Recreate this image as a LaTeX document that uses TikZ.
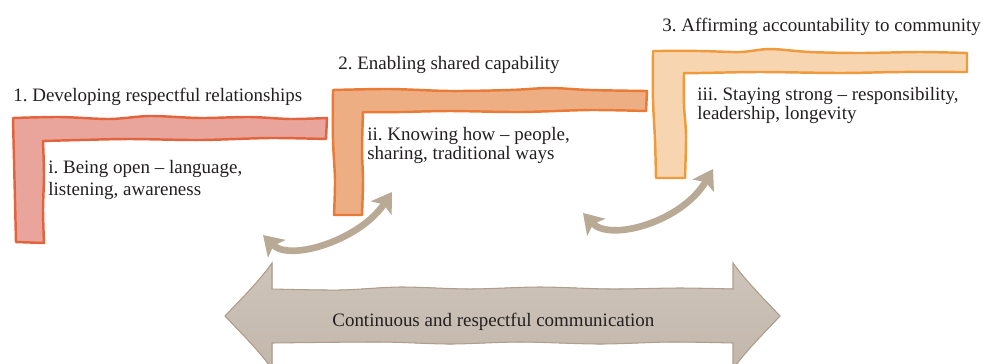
\documentclass[tikz,border=0pt]{standalone}
\usepackage{fontspec}
\setmainfont{Liberation Serif}
\usetikzlibrary{arrows.meta}
\frenchspacing

\definecolor{textgrey}{HTML}{231F20}
\definecolor{oneFill}{HTML}{E9A59B}
\definecolor{oneLine}{HTML}{E2643F}
\definecolor{twoFill}{HTML}{EEAE84}
\definecolor{twoLine}{HTML}{E97B36}
\definecolor{threeFill}{HTML}{F7D5B0}
\definecolor{threeLine}{HTML}{EF9B3D}
\definecolor{tanArrow}{HTML}{B9AA96}
\definecolor{tanTop}{HTML}{CEC4BA}
\definecolor{tanBottom}{HTML}{C3B7AB}
\definecolor{tanLine}{HTML}{AE9E8B}

\begin{document}
\begin{tikzpicture}[x=0.02cm, y=-0.02cm,
  headtext/.style={anchor=base west, inner sep=0pt, text=textgrey,
    font=\fontsize{10.8}{13}\selectfont},
  subtext/.style={anchor=north west, inner sep=0pt, text=textgrey, align=left},
  lbar/.style={line width=1.4pt, line join=round},
  swaparrow/.style={draw=tanArrow, line width=3.8pt,
    {Stealth[length=11pt,width=14pt,inset=2.5pt]}-{Stealth[length=11pt,width=14pt,inset=2.5pt]}}]
  \useasboundingbox (0,0) rectangle (983,363);
  \clip (0,0) rectangle (983,363);

  % the three L-shaped bars
  \filldraw[lbar, fill=oneFill, draw=oneLine] (13,118)
    -- plot[smooth] coordinates {(13,118) (60,117) (110,119) (150,116) (200,118) (250,117) (290,119) (327,118)}
    -- (326,139)
    -- plot[smooth] coordinates {(326,139) (270,138) (200,140) (130,139) (80,140) (43,141)}
    -- plot[smooth] coordinates {(43,141) (44,175) (43,210) (44,243)}
    -- (16,242)
    -- plot[smooth] coordinates {(16,242) (15,200) (14,160) (13,118)} -- cycle;
  \filldraw[lbar, fill=twoFill, draw=twoLine] (333,90)
    -- plot[smooth] coordinates {(333,90) (390,89) (450,91) (510,90) (550,88) (590,90) (647,91)}
    -- (646,111)
    -- plot[smooth] coordinates {(646,111) (590,110) (520,112) (450,111) (400,112) (363,112)}
    -- plot[smooth] coordinates {(363,112) (362,150) (363,180) (362,215)}
    -- (334,215)
    -- plot[smooth] coordinates {(334,215) (335,180) (333,140) (333,90)} -- cycle;
  \filldraw[lbar, fill=threeFill, draw=threeLine] (653,51)
    -- plot[smooth] coordinates {(653,51) (700,51) (740,52) (770,49) (810,52) (860,53) (920,52) (967,53)}
    -- (967,72)
    -- plot[smooth] coordinates {(967,72) (900,72) (840,73) (760,72) (700,73) (684,73)}
    -- plot[smooth] coordinates {(684,73) (684,105) (686,135) (685,178)}
    -- (656,178)
    -- plot[smooth] coordinates {(656,178) (655,140) (653,100) (653,51)} -- cycle;

  % headings
  \node[headtext] (develop) at (13,101) {1. Developing respectful relationships};
  \node[headtext] (enable) at (338,69) {2. Enabling shared capability};
  \node[headtext] (affirm) at (662,31) {3. Affirming accountability to community};

  % sub items
  \node[subtext, font=\fontsize{10.8}{12.5}\selectfont] (open) at (48,160)
    {i. Being open -- language,\\listening, awareness};
  \node[subtext, font=\fontsize{10.8}{11}\selectfont] (knowing) at (367,127)
    {ii. Knowing how -- people,\\sharing, traditional ways};
  \node[subtext, font=\fontsize{10.8}{11}\selectfont] (staying) at (697,87)
    {iii. Staying strong -- responsibility,\\leadership, longevity};

  % curved two-way arrows
  \coordinate (swapAleft) at (263,235);
  \coordinate (swapAright) at (392,192);
  \coordinate (swapBleft) at (583,213);
  \coordinate (swapBright) at (713,169);
  \draw[swaparrow] (swapAleft) .. controls (290,262) and (360,240) .. (swapAright);
  \draw[swaparrow] (swapBleft) .. controls (610,242) and (682,222) .. (swapBright);

  % the long arrow at the bottom
  \filldraw[top color=tanTop, bottom color=tanBottom, draw=tanLine, line width=0.6pt]
    (225,316) .. controls (245,295) and (260,280) .. (272,263) -- (272,289)
    -- plot[smooth] coordinates {(272,289) (340,290) (400,287) (470,289) (540,287) (610,289) (680,288) (733,289)}
    -- (733,263) .. controls (745,280) and (765,300) .. (780,316)
    .. controls (765,332) and (745,352) .. (733,369) -- (733,343)
    -- plot[smooth] coordinates {(733,343) (670,342) (600,344) (520,342) (450,344) (380,342) (272,343)}
    -- (272,369) .. controls (260,352) and (245,337) .. (225,316) -- cycle;
  \node[headtext] (talk) at (332,326) {Continuous and respectful communication};
\end{tikzpicture}
\end{document}
